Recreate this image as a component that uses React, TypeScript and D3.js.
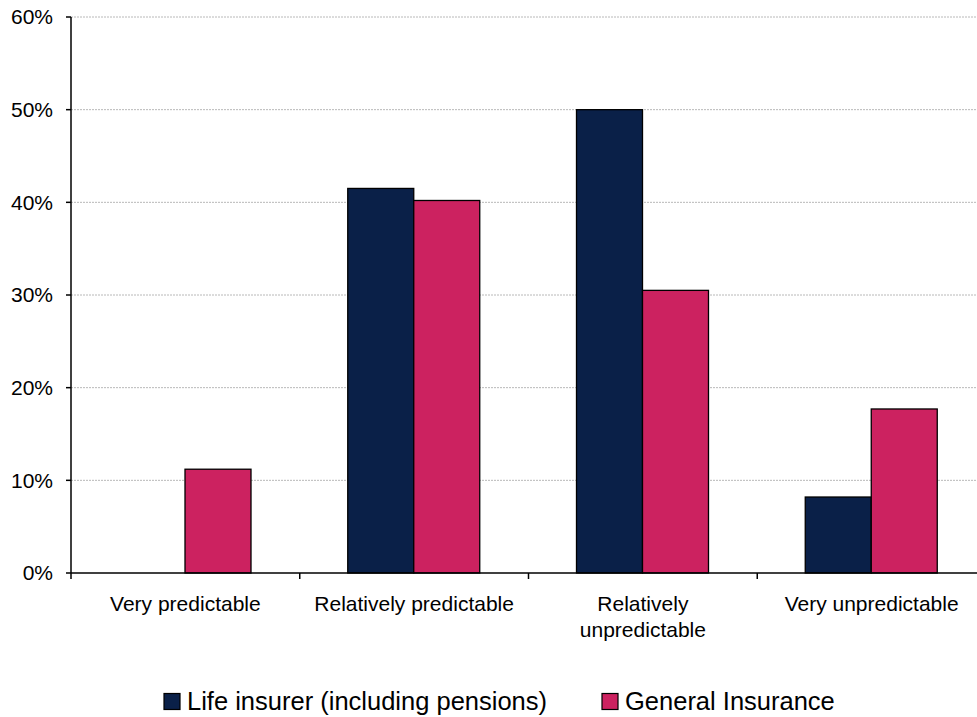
import React from "react";
import * as d3 from "d3";

const categories = ["Very predictable", "Relatively predictable", "Relatively unpredictable", "Very unpredictable"];
const categoryLines = [["Very predictable"], ["Relatively predictable"], ["Relatively", "unpredictable"], ["Very unpredictable"]];
const seriesNames = ["Life insurer (including pensions)", "General Insurance"];
const lifeValues = [0, 41.5, 50, 8.2];
const generalValues = [11.2, 40.2, 30.5, 17.7];
const yTicks = [0, 10, 20, 30, 40, 50, 60];
const colors = ["#0a2048", "#cc2260"];

export default function App() {
  const W = 977, H = 717;
  const left = 71, top = 17, bottom = 573;
  const catW = 228.75;
  const x = d3.scaleBand<string>().domain(categories).range([left, left + catW * 4]).paddingInner(0).paddingOuter(0);
  const inner = d3.scaleBand<number>().domain([0, 1]).range([48, catW - 48.75]).padding(0);
  const y = d3.scaleLinear().domain([0, 60]).range([bottom, top]);
  const series = [lifeValues, generalValues];
  const font = "Liberation Sans, Arial, sans-serif";
  const legendX = [164, 602];
  return (
    <svg width={W} height={H} style={{ position: "absolute", left: 0, top: 0 }} fontFamily={font}>
      <rect width={W} height={H} fill="#fff" />
      {yTicks.slice(1).map((t) => (
        <line key={t} x1={left} x2={W} y1={y(t)} y2={y(t)} stroke="#b8b8b8" strokeWidth={1} strokeDasharray="2,1" />
      ))}
      {series.map((vals, si) =>
        vals.map((v, ci) =>
          v > 0 ? (
            <rect key={`${si}-${ci}`} x={(x(categories[ci]) as number) + (inner(si) as number)} y={y(v)} width={inner.bandwidth()} height={y(0) - y(v)} fill={colors[si]} stroke="#000" strokeWidth={1.3} />
          ) : null
        )
      )}
      <line x1={left} x2={left} y1={top} y2={bottom} stroke="#000" strokeWidth={1.5} />
      <line x1={left} x2={W} y1={bottom} y2={bottom} stroke="#000" strokeWidth={1.5} />
      {yTicks.map((t) => (
        <g key={t}>
          <line x1={left - 5} x2={left} y1={y(t)} y2={y(t)} stroke="#000" strokeWidth={1.5} />
          <text x={53} y={y(t)} dy="0.35em" textAnchor="end" fontSize={21} fill="#000">{t}%</text>
        </g>
      ))}
      {categories.map((c) => (
        <line key={c} x1={x(c) as number} x2={x(c) as number} y1={bottom} y2={bottom + 6} stroke="#000" strokeWidth={1.5} />
      ))}
      {categories.map((c, i) => (
        <text key={c} x={(x(c) as number) + catW / 2} y={611} textAnchor="middle" fontSize={21} fill="#000">
          {categoryLines[i].map((l, li) => (
            <tspan key={li} x={(x(c) as number) + catW / 2} dy={li === 0 ? 0 : 26}>{l}</tspan>
          ))}
        </text>
      ))}
      {seriesNames.map((name, i) => (
        <g key={name}>
          <rect x={legendX[i]} y={693.5} width={16} height={16} fill={colors[i]} stroke="#000" strokeWidth={1.2} />
          <text x={legendX[i] + 23} y={710} fontSize={25.5} fill="#000">{name}</text>
        </g>
      ))}
    </svg>
  );
}
